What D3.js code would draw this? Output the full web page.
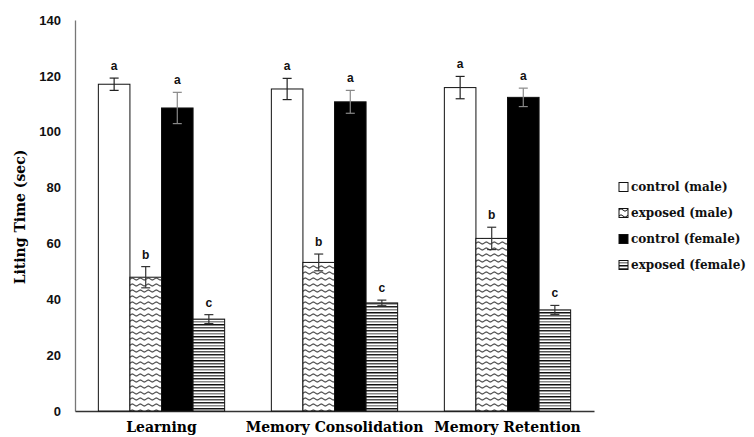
<!DOCTYPE html>
<html>
<head>
<meta charset="utf-8">
<script src="https://cdn.jsdelivr.net/npm/d3@7/dist/d3.min.js"></script>
<style>
  html, body { margin: 0; padding: 0; background: #fff; }
  svg { display: block; }
</style>
</head>
<body>
<svg id="chart" width="754" height="437"></svg>
<script>
// ---- data ----
const categories = ["Learning", "Memory Consolidation", "Memory Retention"];
const seriesNames = ["control (male)", "exposed (male)", "control (female)", "exposed (female)"];
const controlMale = [117.0, 115.3, 115.8];
const controlMaleErr = [2.2, 3.8, 4.0];
const exposedMale = [47.9, 53.2, 61.8];
const exposedMaleErr = [3.8, 3.0, 4.0];
const controlFemale = [108.5, 110.7, 112.3];
const controlFemaleErr = [5.6, 4.1, 3.3];
const exposedFemale = [32.9, 38.7, 36.2];
const exposedFemaleErr = [1.6, 1.0, 1.6];
const lettersControlMale = ["a", "a", "a"];
const lettersExposedMale = ["b", "b", "b"];
const lettersControlFemale = ["a", "a", "a"];
const lettersExposedFemale = ["c", "c", "c"];
const yTicks = [0, 20, 40, 60, 80, 100, 120, 140];
const yLabel = "Liting Time (sec)";

const seriesValues = [controlMale, exposedMale, controlFemale, exposedFemale];
const seriesErrs = [controlMaleErr, exposedMaleErr, controlFemaleErr, exposedFemaleErr];
const seriesLetters = [lettersControlMale, lettersExposedMale, lettersControlFemale, lettersExposedFemale];

// ---- layout ----
const svg = d3.select("#chart");
const plot = { left: 75, right: 594, top: 20, bottom: 411 };
const serif = "DejaVu Serif, Liberation Serif, serif";

// patterns
const defs = svg.append("defs");
const wave = defs.append("pattern").attr("id", "wave")
  .attr("patternUnits", "userSpaceOnUse").attr("width", 8).attr("height", 6);
wave.append("rect").attr("width", 8).attr("height", 6).attr("fill", "#fff");
wave.append("path").attr("d", "M0,3 Q2,0.5 4,3 T8,3")
  .attr("fill", "none").attr("stroke", "#111").attr("stroke-width", 1);

const stripes = defs.append("pattern").attr("id", "stripes")
  .attr("patternUnits", "userSpaceOnUse").attr("width", 8).attr("height", 12);
stripes.append("rect").attr("width", 8).attr("height", 12).attr("fill", "#fff");
[[0, "#111"], [3, "#555"], [6, "#222"], [9, "#888"]].forEach(([yy, c]) => {
  stripes.append("rect").attr("x", 0).attr("y", yy).attr("width", 8).attr("height", 1.5).attr("fill", c);
});

const fills = ["#fff", "url(#wave)", "#000", "url(#stripes)"];
const errColors = ["#222", "#333", "#888", "#333"];

const x0 = d3.scaleBand().domain(categories)
  .range([plot.left, plot.right]).paddingInner(0.27).paddingOuter(0.135);
const x1 = d3.scaleBand().domain(d3.range(seriesNames.length))
  .range([0, x0.bandwidth()]).padding(0);
const y = d3.scaleLinear().domain([0, 140]).range([plot.bottom, plot.top]);

// y axis
const yAxis = d3.axisLeft(y).tickValues(yTicks).tickSize(0).tickPadding(14);
const yg = svg.append("g").attr("transform", `translate(${plot.left},0)`).call(yAxis);
yg.select(".domain").attr("stroke", "#777").attr("stroke-width", 1.3);
yg.selectAll("text")
  .attr("font-family", "Liberation Sans, Arial, sans-serif")
  .attr("font-weight", "bold").attr("font-size", 13).attr("fill", "#111");

// x axis
const xAxis = d3.axisBottom(x0).tickSize(0).tickPadding(11);
const xg = svg.append("g").attr("transform", `translate(0,${plot.bottom})`).call(xAxis);
xg.select(".domain").attr("stroke", "#333").attr("stroke-width", 1.3);
xg.selectAll("text")
  .attr("font-family", serif)
  .attr("font-weight", "bold").attr("font-size", 14).attr("fill", "#000");

// y label
svg.append("text")
  .attr("transform", `translate(25,217) rotate(-90)`)
  .attr("text-anchor", "middle")
  .attr("font-family", serif)
  .attr("font-weight", "bold").attr("font-size", 14).attr("fill", "#000")
  .text(yLabel);

// bars
const groups = svg.append("g").selectAll("g").data(categories).join("g")
  .attr("transform", d => `translate(${x0(d)},0)`);

groups.each(function (cat, ci) {
  const g = d3.select(this);
  seriesNames.forEach((s, si) => {
    const v = seriesValues[si][ci];
    const e = seriesErrs[si][ci];
    const bx = x1(si);
    const bw = x1.bandwidth();
    g.append("rect")
      .attr("x", bx).attr("y", y(v))
      .attr("width", bw).attr("height", y(0) - y(v))
      .attr("fill", fills[si]).attr("stroke", "#111").attr("stroke-width", 1);
    const cx = bx + bw / 2;
    const eg = g.append("g").attr("stroke", errColors[si]).attr("stroke-width", 1.2);
    eg.append("line").attr("x1", cx).attr("x2", cx).attr("y1", y(v + e)).attr("y2", y(v - e));
    eg.append("line").attr("x1", cx - 4.5).attr("x2", cx + 4.5).attr("y1", y(v + e)).attr("y2", y(v + e));
    eg.append("line").attr("x1", cx - 4.5).attr("x2", cx + 4.5).attr("y1", y(v - e)).attr("y2", y(v - e));
    g.append("text")
      .attr("x", cx).attr("y", y(v + e) - 8)
      .attr("text-anchor", "middle")
      .attr("font-family", "Liberation Sans, Arial, sans-serif")
      .attr("font-weight", "bold").attr("font-size", 12).attr("fill", "#111")
      .text(seriesLetters[si][ci]);
  });
});

// legend
const legend = svg.append("g").attr("transform", "translate(619,187)");
seriesNames.forEach((s, i) => {
  const row = legend.append("g").attr("transform", `translate(0,${i * 26})`);
  row.append("rect").attr("x", 0).attr("y", -4.5).attr("width", 9).attr("height", 9)
    .attr("fill", fills[i]).attr("stroke", "#111").attr("stroke-width", 1);
  row.append("text").attr("x", 12).attr("y", 0).attr("dy", "0.35em")
    .attr("font-family", serif)
    .attr("font-weight", "bold").attr("font-size", 12).attr("fill", "#111")
    .text(s);
});
</script>
</body>
</html>
